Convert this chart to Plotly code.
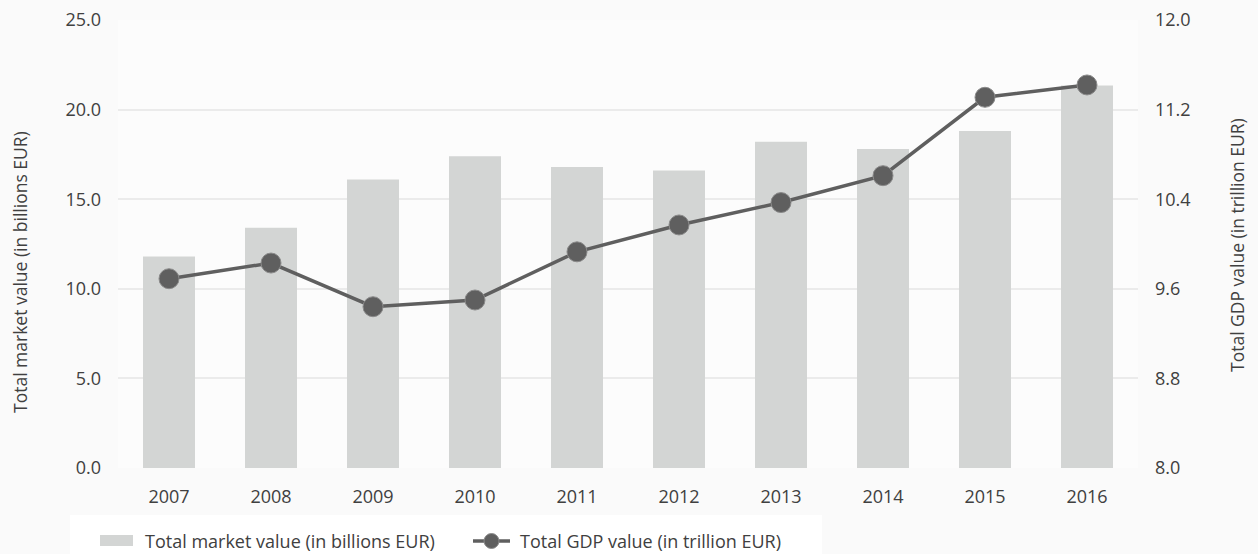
import plotly.graph_objects as go

years = ["2007", "2008", "2009", "2010", "2011", "2012", "2013", "2014", "2015", "2016"]
market_value = [11.8, 13.4, 16.1, 17.4, 16.8, 16.6, 18.2, 17.8, 18.8, 21.35]
gdp_value = [9.69, 9.83, 9.44, 9.50, 9.93, 10.17, 10.37, 10.61, 11.31, 11.42]
left_ticks = [0, 5, 10, 15, 20, 25]
right_ticks = [8.0, 8.8, 9.6, 10.4, 11.2, 12.0]
bar_name = "Total market value (in billions EUR)"
line_name = "Total GDP value (in trillion EUR)"

FONT = "Open Sans"
TXT = "#404040"
BAR_C = "#d3d5d4"
LINE_C = "#5f5f5f"

# plot-area geometry in pixels (for converting layout positions)
W, H = 1258, 554
L, R, T, B = 118, 120, 20, 86
PW, PH = W - L - R, H - T - B


def px(x):
    return (x - L) / PW


def py(y):
    return (H - B - y) / PH


fig = go.Figure()
fig.add_trace(go.Bar(
    x=years, y=market_value, name=bar_name,
    marker=dict(color=BAR_C, line=dict(width=0)), width=0.51, yaxis="y",
    showlegend=False,
))
fig.add_trace(go.Scatter(
    x=years, y=gdp_value, name=line_name,
    mode="lines+markers", yaxis="y2",
    line=dict(color=LINE_C, width=3.5),
    marker=dict(size=20, color=LINE_C, line=dict(color="#8a8a8a", width=1)),
    showlegend=False,
))

shapes = [
    # legend box
    dict(type="rect", xref="paper", yref="paper", x0=px(70), x1=px(822), y0=py(515), y1=py(560),
         fillcolor="#ffffff", line=dict(width=0), layer="below"),
    # bar swatch
    dict(type="rect", xref="paper", yref="paper", x0=px(100), x1=px(133), y0=py(546), y1=py(535),
         fillcolor=BAR_C, line=dict(width=0)),
    # line swatch
    dict(type="line", xref="paper", yref="paper", x0=px(473), x1=px(510), y0=py(541), y1=py(541),
         line=dict(color=LINE_C, width=3.5)),
    dict(type="circle", xref="paper", yref="paper", x0=px(484), x1=px(499), y0=py(548.5), y1=py(533.5),
         fillcolor=LINE_C, line=dict(color="#8a8a8a", width=1)),
]

annotations = [
    dict(text=bar_name, xref="paper", yref="paper", x=px(143), y=py(541), xanchor="left", yanchor="middle",
         showarrow=False, font=dict(size=18, color=TXT)),
    dict(text=line_name, xref="paper", yref="paper", x=px(518), y=py(541), xanchor="left", yanchor="middle",
         showarrow=False, font=dict(size=18, color=TXT)),
    dict(text="Total market value (in billions EUR)", xref="paper", yref="paper", x=px(20), y=py(272),
         xanchor="center", yanchor="middle", textangle=-90, showarrow=False, font=dict(size=17.5, color=TXT)),
    dict(text="Total GDP value (in trillion EUR)", xref="paper", yref="paper", x=px(1237), y=py(245),
         xanchor="center", yanchor="middle", textangle=-90, showarrow=False, font=dict(size=17.5, color=TXT)),
]

fig.update_layout(
    width=W, height=H,
    margin=dict(l=L, r=R, t=T, b=B, autoexpand=False),
    paper_bgcolor="#fafafa", plot_bgcolor="#fcfcfc",
    font=dict(family=FONT, size=18, color=TXT),
    showlegend=False,
    xaxis=dict(range=[-0.5, len(years) - 0.5], showgrid=False, showline=False, ticks="",
               tickfont=dict(size=18, color=TXT), ticklabelstandoff=16, automargin=False),
    yaxis=dict(range=[0, 25], tickvals=left_ticks, tickformat=".1f", automargin=False,
               showgrid=True, gridcolor="#ebebeb", gridwidth=1.5, zeroline=False,
               ticklabelstandoff=16, tickfont=dict(size=18, color=TXT)),
    yaxis2=dict(range=[8.0, 12.0], tickvals=right_ticks, tickformat=".1f", automargin=False,
                overlaying="y", side="right", showgrid=False, zeroline=False,
                ticklabelstandoff=16, tickfont=dict(size=18, color=TXT)),
    shapes=shapes,
    annotations=annotations,
)

fig.write_html(
    "out.html",
    config={"displayModeBar": False},
    post_script="document.body.style.margin='0';document.body.style.overflow='hidden';",
)
